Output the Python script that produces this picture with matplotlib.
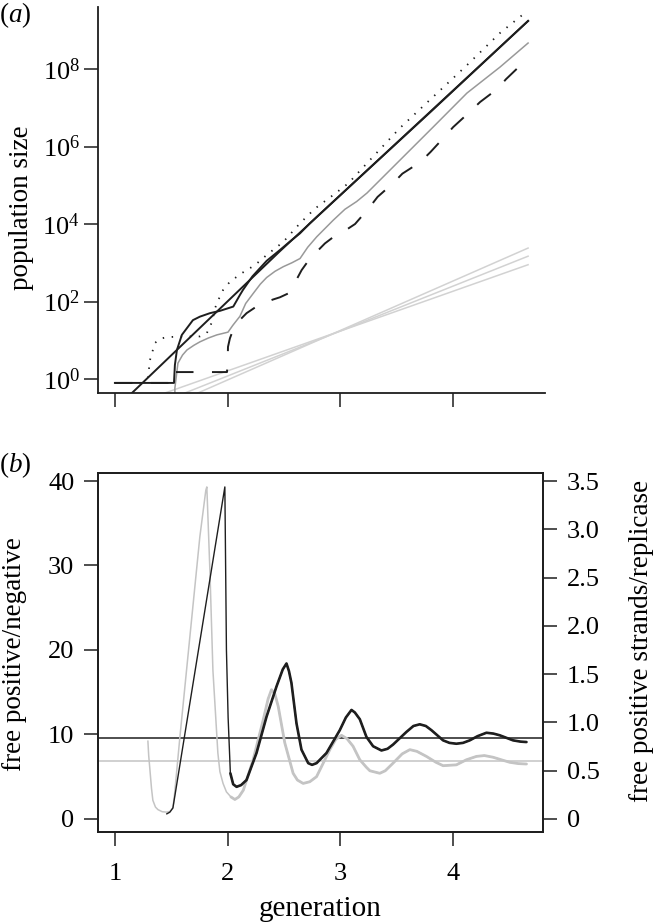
import numpy as np
import matplotlib
matplotlib.use("Agg")
import matplotlib.pyplot as plt
from matplotlib.ticker import NullLocator, FixedLocator

plt.rcParams['font.family'] = ['Liberation Serif', 'DejaVu Serif']
plt.rcParams['mathtext.fontset'] = 'custom'
plt.rcParams['mathtext.rm'] = 'Liberation Serif'
plt.rcParams['mathtext.it'] = 'Liberation Serif:italic'

FS = 19      # tick labels
FL = 19.5    # axis labels

# ---- panel (a): population size (log10 values) ----
straight_gen = [1.151, 2.464, 4.665]
straight_log = [-0.36, 3.30, 9.24]

wiggle_gen = [1.0, 1.524, 1.532, 1.55, 1.594, 1.692, 1.754, 1.843, 1.932, 2.05,
              2.109, 2.136, 2.22, 2.346, 2.464, 2.553, 2.642, 2.73, 2.908, 3.795, 4.665]
wiggle_log = [-0.10, -0.10, 0.36, 0.75, 1.14, 1.52, 1.61, 1.70, 1.76, 1.87,
              2.17, 2.30, 2.65, 3.05, 3.33, 3.55, 3.76, 4.02, 4.50, 6.88, 9.24]

dashed_gen = [1.0, 1.47, 1.47, 1.994, 2.0, 2.003, 2.02, 2.047, 2.10, 2.168, 2.25,
              2.331, 2.40, 2.464, 2.538, 2.597, 2.656, 2.715, 2.775, 2.863, 2.94,
              3.026, 3.13, 3.25, 3.33, 3.47, 3.55, 3.71, 3.80, 3.93, 4.00, 4.15,
              4.24, 4.39, 4.47, 4.61, 4.665]
dashed_log = [-0.10, -0.10, 0.18, 0.18, 0.40, 0.83, 1.05, 1.26, 1.50, 1.70, 1.86,
              1.97, 2.05, 2.11, 2.21, 2.49, 2.81, 3.05, 3.24, 3.50, 3.67,
              3.80, 4.00, 4.40, 4.70, 5.06, 5.30, 5.60, 5.86, 6.27, 6.50, 6.90,
              7.15, 7.48, 7.74, 8.13, 8.26]

grey_gen = [1.532, 1.532, 1.559, 1.60, 1.639, 1.70, 1.754, 1.83, 1.905, 2.003,
            2.047, 2.109, 2.16, 2.227, 2.29, 2.346, 2.42, 2.494, 2.57, 2.642,
            2.71, 2.79, 2.937, 3.04, 3.144, 3.236, 3.529, 3.822, 4.123, 4.416, 4.665]
grey_log = [-0.40, -0.23, 0.41, 0.62, 0.75, 0.87, 0.96, 1.06, 1.14, 1.21,
            1.39, 1.62, 1.95, 2.21, 2.45, 2.62, 2.78, 2.90, 3.00, 3.11,
            3.40, 3.67, 4.10, 4.38, 4.58, 4.80, 5.65, 6.50, 7.38, 8.05, 8.67]

dotted_gen = [1.293, 1.311, 1.355, 1.40, 1.461, 1.603, 1.754, 1.816, 1.861, 1.887,
              1.917, 1.96, 2.02, 2.124, 2.242, 2.346, 2.494, 2.642, 2.775, 2.937,
              3.07, 3.236, 3.529, 3.822, 4.123, 4.416, 4.638]
dotted_log = [0.03, 0.49, 0.93, 1.04, 1.08, 1.10, 1.10, 1.19, 1.47, 1.82,
              2.04, 2.30, 2.51, 2.73, 2.94, 3.20, 3.54, 4.02, 4.40, 4.75,
              5.05, 5.57, 6.48, 7.28, 8.10, 8.93, 9.45]

light_gen = [[1.444, 4.665], [1.621, 4.665], [1.736, 4.665]]
light_log = [[-0.36, 2.95], [-0.36, 3.17], [-0.36, 3.38]]

# ---- panel (b): ratios ----
ratio_grey_gen = [1.293, 1.30, 1.311, 1.325, 1.337, 1.36, 1.382, 1.42, 1.461, 1.49,
                  1.515, 1.53, 1.577, 1.665, 1.754, 1.807, 1.816, 1.843, 1.87, 1.914,
                  1.932, 1.96, 1.99, 2.03, 2.065, 2.10, 2.14, 2.227, 2.316, 2.36,
                  2.39, 2.42, 2.45, 2.508, 2.582, 2.62, 2.671, 2.73, 2.79, 2.908,
                  2.96, 3.011, 3.06, 3.114, 3.174, 3.233, 3.263, 3.351, 3.40, 3.469,
                  3.55, 3.618, 3.68, 3.765, 3.85, 3.913, 4.031, 4.12, 4.209, 4.28,
                  4.357, 4.43, 4.505, 4.58, 4.653]
ratio_grey = [9.2, 7.5, 5.8, 3.6, 2.2, 1.4, 1.1, 0.85, 0.8, 0.9,
              1.3, 3.0, 9.7, 21.5, 33.4, 38.9, 39.3, 29.5, 17.6, 7.8,
              5.6, 4.2, 3.2, 2.6, 2.3, 2.6, 3.4, 7.0, 11.7, 14.2,
              15.3, 14.8, 13.3, 9.0, 5.4, 4.6, 4.2, 4.4, 5.0, 8.2,
              9.4, 9.9, 9.5, 8.6, 7.0, 6.1, 5.7, 5.4, 5.7, 6.6,
              7.7, 8.2, 8.0, 7.4, 6.7, 6.3, 6.4, 7.0, 7.4, 7.5,
              7.3, 7.0, 6.7, 6.55, 6.5]

ratio_black_gen = [1.461, 1.488, 1.515, 1.976, 1.99, 2.005, 2.025, 2.05, 2.08, 2.12,
                   2.168, 2.257, 2.346, 2.435, 2.49, 2.523, 2.545, 2.567, 2.612, 2.656,
                   2.716, 2.75, 2.79, 2.878, 2.996, 3.05, 3.10, 3.13, 3.174, 3.233,
                   3.292, 3.366, 3.42, 3.469, 3.588, 3.65, 3.706, 3.76, 3.81, 3.913,
                   3.97, 4.031, 4.09, 4.15, 4.22, 4.298, 4.36, 4.416, 4.534, 4.60, 4.653]
ratio_black = [0.6, 0.8, 1.3, 39.3, 20.0, 12.0, 5.4, 4.1, 3.8, 4.0,
               4.6, 7.8, 12.1, 15.7, 17.7, 18.4, 17.5, 16.1, 11.3, 8.2,
               6.6, 6.4, 6.6, 7.8, 10.5, 12.0, 12.9, 12.6, 11.8, 9.7,
               8.6, 8.1, 8.3, 8.8, 10.3, 11.0, 11.2, 11.0, 10.5, 9.3,
               9.0, 8.9, 9.0, 9.3, 9.8, 10.2, 10.1, 9.9, 9.3, 9.15, 9.1]

hline_black = 0.84   # right-axis units
hline_grey = 0.60

gen_ticks = [1, 2, 3, 4]
left_ticks = [0, 10, 20, 30, 40]
right_ticks = [0, 0.5, 1.0, 1.5, 2.0, 2.5, 3.0, 3.5]
right_labels = ['0', '0.5', '1.0', '1.5', '2.0', '2.5', '3.0', '3.5']

BLACK = '#1e1e1e'
MID = '#999999'
LIGHT = '#d2d2d2'
BGREY = '#c4c4c4'

fig = plt.figure(figsize=(6.55, 9.24), dpi=100)
W, H = 655.0, 924.0

# ---------------- top panel ----------------
ax1 = fig.add_axes([98 / W, 1 - 393 / H, (545 - 98) / W, (393 - 7) / H])
for g, l in zip(light_gen, light_log):
    ax1.plot(g, 10 ** np.array(l), color=LIGHT, lw=1.1)
ax1.plot(grey_gen, 10 ** np.array(grey_log), color=MID, lw=1.1)
ax1.plot(dashed_gen, 10 ** np.array(dashed_log), color=BLACK, lw=1.4,
         linestyle=(0, (9, 9.5)))
ax1.plot(dotted_gen, 10 ** np.array(dotted_log), color=BLACK, lw=1.3,
         linestyle=(0, (0.8, 4.2)))
ax1.plot(straight_gen, 10 ** np.array(straight_log), color=BLACK, lw=1.4)
ax1.plot(wiggle_gen, 10 ** np.array(wiggle_log), color=BLACK, lw=1.4)

ax1.set_yscale('log')
ax1.set_xlim(0.85, 4.815)
ax1.set_ylim(10 ** -0.36, 10 ** 9.6)
ax1.spines['top'].set_visible(False)
ax1.spines['right'].set_visible(False)
for s in ['left', 'bottom']:
    ax1.spines[s].set_linewidth(1.3)
    ax1.spines[s].set_color(BLACK)
ax1.xaxis.set_major_locator(FixedLocator(gen_ticks))
ax1.set_xticklabels([])
ax1.yaxis.set_major_locator(FixedLocator([1e0, 1e2, 1e4, 1e6, 1e8]))
ax1.yaxis.set_minor_locator(NullLocator())
ax1.set_yticklabels([r'$10^{0}$', r'$10^{2}$', r'$10^{4}$', r'$10^{6}$', r'$10^{8}$'])
ax1.tick_params(axis='both', direction='out', length=10, width=1.1, color=BLACK,
                labelsize=FS, pad=3)

fig.text(22 / W, 1 - 208 / H, 'population size', rotation=90, ha='center',
         va='center', fontsize=FL)
fig.text(15 / W, 1 - 15 / H, r'$(\mathit{a})$', ha='center', va='center', fontsize=FL)

# ---------------- bottom panel ----------------
ax2 = fig.add_axes([98 / W, 1 - 832 / H, (543 - 98) / W, (832 - 473) / H])
scale = 40 / 3.5
ax2.axhline(hline_grey * scale, color=BGREY, lw=1.1)
ax2.axhline(hline_black * scale, color=BLACK, lw=1.1)

rg = np.array(ratio_grey_gen)
rv = np.array(ratio_grey)
ax2.plot(rg, rv, color=BGREY, lw=1.1)
m = rg >= 2.0
ax2.plot(rg[m], rv[m], color=BGREY, lw=2.0, solid_capstyle='round',
         solid_joinstyle='round')

bg = np.array(ratio_black_gen)
bv = np.array(ratio_black)
ax2.plot(bg, bv, color=BLACK, lw=1.0)
m = bg >= 2.02
ax2.plot(bg[m], bv[m], color=BLACK, lw=1.9, solid_capstyle='round',
         solid_joinstyle='round')

ax2.set_xlim(0.85, 4.80)
ax2.set_ylim(-1.55, 40.95)
for s in ax2.spines.values():
    s.set_linewidth(1.3)
    s.set_color(BLACK)
ax2.xaxis.set_major_locator(FixedLocator(gen_ticks))
ax2.set_xticklabels([str(t) for t in gen_ticks])
ax2.yaxis.set_major_locator(FixedLocator(left_ticks))
ax2.set_yticklabels([str(t) for t in left_ticks])
ax2.tick_params(axis='x', direction='out', length=10, width=1.1, color=BLACK,
                labelsize=FS, pad=12)
ax2.tick_params(axis='y', direction='out', length=10, width=1.1, color=BLACK,
                labelsize=FS, pad=7)

ax2r = ax2.twinx()
ax2r.set_ylim(-1.55 / scale, 40.95 / scale)
ax2r.yaxis.set_major_locator(FixedLocator(right_ticks))
ax2r.set_yticklabels(right_labels)
ax2r.tick_params(axis='y', direction='out', length=10, width=1.1, color=BLACK,
                 labelsize=FS, pad=7)
for s in ax2r.spines.values():
    s.set_linewidth(1.3)
    s.set_color(BLACK)

fig.text(15 / W, 1 - 654 / H, 'free positive/negative', rotation=90, ha='center',
         va='center', fontsize=FL)
fig.text(642 / W, 1 - 641 / H, 'free positive strands/replicase', rotation=90,
         ha='center', va='center', fontsize=FL)
fig.text(320.5 / W, 1 - 916 / H, 'generation', ha='center', va='baseline', fontsize=21)
fig.text(15 / W, 1 - 465 / H, r'$(\mathit{b})$', ha='center', va='center', fontsize=FL)

fig.savefig('out.png', dpi=100)
